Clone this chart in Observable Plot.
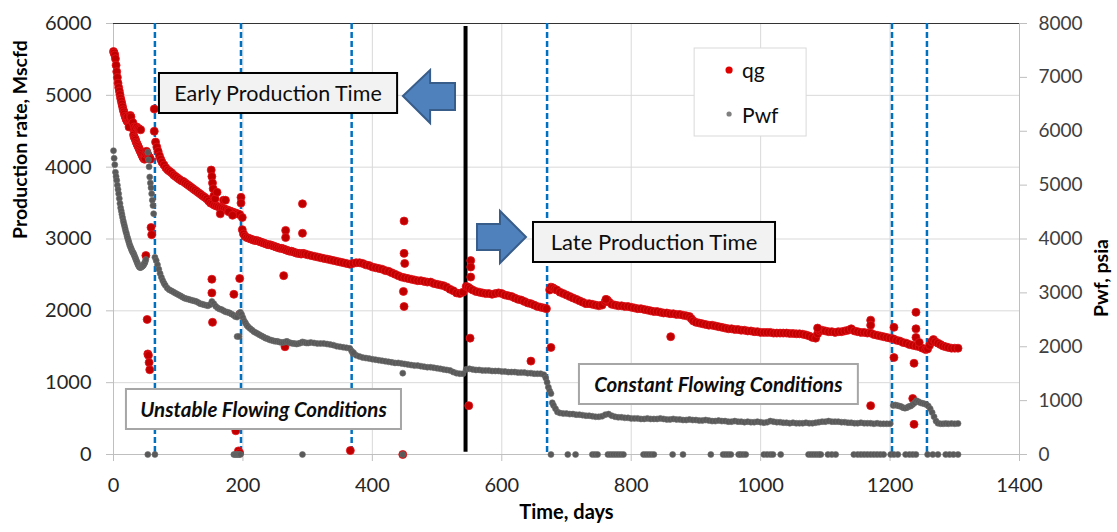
<!DOCTYPE html>
<html><head><meta charset="utf-8">
<script src="https://cdn.jsdelivr.net/npm/d3@7"></script>
<script src="https://cdn.jsdelivr.net/npm/@observablehq/plot@0.6"></script>
<style>
html,body{margin:0;padding:0;background:#fff;}
#chart{width:1117px;height:532px;}
svg{display:block}
</style></head><body><div id="chart"></div>
<script>
// ---------------- DATA ----------------
const xTicks = [0,200,400,600,800,1000,1200,1400];
const leftTicks = [0,1000,2000,3000,4000,5000,6000];
const rightTicks = [0,1000,2000,3000,4000,5000,6000,7000,8000];
const eventDays = [64,197,368,670,1203,1257];
const splitDay = 544;
const seriesNames = ["qg","Pwf"];
const axisTitles = ["Time, days","Production rate, Mscfd","Pwf, psia"];
const boxLabels = ["Early Production Time","Late Production Time","Unstable Flowing Conditions","Constant Flowing Conditions"];

// qg main trend (Mscfd)
const qgDay = [
0,1,2,3,4,5,6,7,8,9,10,11,12,13,14,15,16,17,18,19,20,21,22,23,24,25,26,27,28,29,30,31,32,33,34,35,36,37,38,39,40,41,42,43,44,45,46,47,48,49,50,51,52,53,54,55,56,57,
65,67,69,71,73,75,78,81,84,87,90,93,96,99,102,105,108,111,114,117,120,123,126,129,132,135,138,141,144,147,150,153,156,159,162,165,168,171,174,177,180,183,186,189,192,195,
199,201,203,206,209,212,215,218,221,224,227,230,233,236,239,242,245,248,251,254,257,260,263,266,269,272,275,278,281,284,287,290,293,296,
300,305,310,315,320,325,330,335,340,345,350,355,360,365,370,375,380,385,390,395,400,405,410,415,420,425,430,435,440,445,450,455,460,465,470,475,480,485,490,495,500,505,510,515,520,525,530,535,540,
545,548,551,555,560,565,570,575,580,585,590,595,600,605,610,615,620,625,630,635,640,645,650,655,660,665,669,
674,676,679,682,685,690,695,700,705,710,715,720,725,730,735,740,745,750,755,760,763,766,770,775,780,785,790,795,800,805,
810,815,820,825,830,835,840,845,850,855,860,865,870,875,880,885,890,893,896,900,905,910,915,920,925,930,935,940,945,950,
955,960,965,970,975,980,985,990,995,1000,1005,1010,1015,1020,1025,1030,1035,1040,1045,1050,1055,1060,1065,1070,1075,1080,1085,1088,1091,1095,
1100,1105,1110,1115,1120,1125,1130,1135,1140,1145,1150,1155,1160,1165,1170,1175,1180,1185,1190,1195,1200,1205,1210,1215,1220,1225,1230,1235,1240,1245,
1250,1255,1258,1261,1264,1267,1270,1274,1278,1282,1286,1290,1295,1300,1305];
const qgRate = [
5610,5590,5560,5510,5420,5330,5250,5170,5110,5060,5010,4960,4920,4880,4840,4800,4770,4740,4710,4680,4660,4640,4700,4620,4600,4650,4720,4640,4600,4560,4540,4450,4420,4400,4380,4350,4330,4310,4290,4270,4250,4230,4210,4190,4170,4150,4130,4120,4110,4120,4180,4220,4200,4170,4150,4140,4130,4110,
4350,4280,4220,4160,4110,4070,4030,3990,3960,3940,3920,3890,3870,3850,3830,3810,3800,3780,3760,3740,3720,3700,3680,3660,3640,3620,3600,3580,3560,3530,3500,3490,3470,3460,3450,3440,3430,3420,3410,3400,3390,3380,3370,3360,3350,3340,
3130,3070,3040,3020,3010,3000,2990,2980,2980,2970,2960,2950,2940,2930,2920,2920,2910,2900,2890,2880,2870,2870,2860,2850,2840,2830,2830,2820,2810,2800,2800,2790,2800,2790,
2780,2770,2760,2750,2740,2730,2720,2710,2700,2690,2680,2670,2660,2650,2660,2670,2670,2660,2640,2630,2610,2600,2590,2580,2560,2550,2530,2510,2490,2470,2460,2450,2440,2430,2420,2420,2410,2400,2400,2380,2370,2360,2350,2330,2300,2280,2250,2240,2260,
2340,2330,2310,2290,2270,2260,2250,2240,2240,2230,2240,2250,2240,2220,2210,2200,2180,2160,2150,2130,2110,2100,2080,2060,2050,2040,2030,
2290,2330,2320,2300,2290,2260,2240,2220,2200,2180,2160,2140,2120,2100,2100,2090,2080,2070,2080,2130,2150,2120,2090,2080,2070,2070,2060,2060,2050,2040,
2030,2030,2020,2010,2000,1990,1990,1980,1970,1970,1960,1960,1950,1950,1940,1930,1920,1890,1860,1840,1830,1820,1810,1800,1800,1790,1780,1770,1760,1750,
1750,1740,1740,1730,1730,1720,1720,1710,1710,1700,1700,1700,1700,1690,1690,1690,1690,1690,1685,1685,1680,1680,1675,1665,1650,1630,1620,1680,1720,1730,
1720,1710,1710,1700,1710,1710,1720,1730,1750,1720,1710,1700,1700,1690,1690,1670,1660,1650,1640,1630,1620,1610,1590,1580,1560,1550,1530,1520,1510,1500,
1480,1460,1470,1520,1570,1600,1570,1550,1530,1510,1500,1490,1480,1480,1480];
// qg scattered points (Mscfd)
const qgOutDay = [24,27,30,32,34,36,38,40,42, 50,52,53,54,55,56,58,59,63,63,
151,152,153,154,155,157,160,165,170,173,178,184,
152,152,153,186,189,193,195,195,195,197,197,199,
263,265,266,266,292,292, 366, 447,449,449,450,448,449,
552,552,552,549,551,645,676,761,861,
1088,1170,1170,1170,1206,1206,1237,1240,1240,1240,1235,1237,1245];
const qgOutRate = [4560,4700,4620,4560,4540,4560,4540,4530,4520, 2770,1880,1400,1380,1280,1180,3160,3060,4810,4500,
3960,3870,3780,3700,3600,3560,3650,3350,3540,3540,3380,3330,
2440,2250,1840,2230,330,50,2450,1950,20,3580,3500,3300,
2490,1500,3120,3020,3490,3080, 55, 0,3250,2800,2660,2270,2060,
2700,2470,2610,680,1620,1300,1490,2160,1640,
1760,1870,1800,680,1770,1350,1270,1980,1750,1630,780,420,1560];

// Pwf main trend (psia)
const pwfDay = [
0,1,2,3,4,5,6,7,8,9,10,11,12,13,14,15,16,17,18,19,20,21,22,23,24,25,26,27,28,29,30,31,32,33,34,35,36,37,38,39,40,41,42,43,44,45,46,47,48,49,50,
53,54,55,56,57,58,59,60,61,62,
64,66,68,70,72,74,76,78,80,83,86,89,92,95,98,101,104,107,110,113,116,119,122,125,128,131,134,137,140,143,146,149,152,155,158,161,164,167,170,173,176,179,182,185,188,191,194,196,
198,200,202,204,206,208,211,214,217,220,223,226,229,232,235,238,241,244,247,250,253,256,259,262,265,268,271,274,277,280,283,286,289,292,295,298,301,
305,310,315,320,325,330,335,340,345,350,355,360,365,370,375,380,385,390,395,400,405,410,415,420,425,430,435,440,445,450,455,460,465,470,475,480,485,490,495,500,
505,510,515,520,525,530,535,540,545,550,555,560,565,570,575,580,585,590,595,600,605,610,615,620,625,630,635,640,645,650,655,660,665,
668,670,672,674,676,678,680,683,686,690,
695,700,705,710,715,720,725,730,735,740,745,750,755,760,765,770,775,780,785,790,795,800,805,810,815,820,825,830,835,840,
845,850,855,860,865,870,875,880,885,890,895,900,905,910,915,920,925,930,935,940,945,950,955,960,965,970,975,980,985,990,
995,1000,1005,1010,1015,1020,1025,1030,1035,1040,1045,1050,1055,1060,1065,1070,1075,1080,1085,1090,1095,1100,1105,1110,1115,1120,1125,1130,1135,1140,
1145,1150,1155,1160,1165,1170,1175,1180,1185,1190,1195,1200,
1205,1208,1211,1214,1217,1220,1223,1226,1229,1232,1235,1238,1241,1244,1247,1250,1253,1256,1259,1262,1265,1268,1271,1274,1278,1282,1286,1290,1295,1300,1305];
const pwfVal = [
5640,5500,5380,5240,5160,5090,5000,4920,4840,4750,4660,4580,4520,4460,4400,4340,4290,4240,4190,4140,4100,4050,4010,3970,3930,3890,3860,3830,3800,3770,3750,3730,3700,3670,3640,3610,3580,3550,3520,3500,3480,3470,3470,3480,3490,3500,3510,3530,3550,3580,3620,
5610,5470,5340,5150,5040,4950,4840,4720,4620,4470,
3660,3600,3520,3440,3360,3290,3230,3180,3140,3090,3060,3040,3020,3000,2980,2960,2940,2920,2900,2890,2880,2870,2860,2850,2840,2820,2800,2790,2780,2770,2760,2780,2840,2800,2750,2720,2700,2690,2670,2650,2640,2630,2610,2590,2560,2550,2620,2640,
2600,2540,2480,2440,2400,2370,2340,2310,2280,2260,2240,2220,2200,2180,2160,2150,2130,2120,2110,2100,2100,2090,2080,2080,2090,2100,2080,2070,2060,2060,2050,2060,2070,2090,2080,2070,2070,
2080,2070,2060,2060,2060,2050,2040,2030,2010,2000,1990,1980,1970,1870,1840,1820,1800,1790,1780,1770,1760,1750,1740,1730,1720,1710,1700,1700,1690,1680,1670,1660,1650,1650,1640,1630,1620,1620,1610,1600,
1590,1580,1570,1560,1530,1510,1500,1500,1580,1590,1580,1570,1570,1560,1560,1560,1550,1550,1550,1540,1540,1530,1530,1530,1520,1520,1520,1510,1510,1500,1500,1500,1480,
1420,1340,1250,1180,1130,960,910,850,790,770,
760,760,750,750,740,740,730,720,720,710,700,700,710,740,750,720,700,690,690,680,680,670,670,670,660,660,670,660,660,660,
670,660,650,650,660,650,650,640,640,650,640,640,630,630,640,630,620,620,630,620,620,610,610,620,610,610,600,610,600,600,
610,600,590,600,620,610,600,600,590,590,580,590,580,580,580,590,580,580,590,600,610,610,620,610,610,610,600,600,590,590,
580,580,590,580,580,580,570,580,570,570,570,570,
910,920,910,900,890,870,860,870,890,900,930,960,1000,980,960,950,940,930,900,850,780,700,620,580,570,570,575,570,575,570,575];
// Pwf scattered points (psia), including shut-in zeros
const pwfOutDay = [191,194,447,368,371,
53,64,186,188,190,192,194,196,292,447,676,702,714,740,744,748,764,768,772,776,780,784,788,819,823,827,831,835,864,880,923,942,946,950,954,966,969,973,977,
1005,1010,1015,1019,1031,1074,1078,1082,1086,1090,1093,1104,1110,1116,1144,1150,1155,1160,1165,1170,1175,1180,1185,1190,1201,1206,1212,1224,1230,1235,1240,1258,1266,1274,1286,1292,1298,1305];
const pwfOutVal = [2190,2190,1510,1920,1890,
0,0,0,0,0,0,0,0,0,0,0,0,0,0,0,0,0,0,0,0,0,0,0,0,0,0,0,0,0,0,0,0,0,0,0,0,0,0,0,
0,0,0,0,0,0,0,0,0,0,0,0,0,0,0,0,0,0,0,0,0,0,0,0,0,0,0,0,0,0,0,0,0,0,0,0,0,0];

// ---------------- LAYOUT (annotation positions in data units) ----------------
const layout = {
  early:    {x1:71,  x2:439,  y1:5304, y2:4747},
  late:     {x1:649, x2:1023, y1:3230, y2:2673},
  unstable: {x1:20,  x2:445,  y1:905,  y2:348},
  constant: {x1:720, x2:1151, y1:1253, y2:696},
  legend:   {x1:898, x2:1071, y1:5652, y2:4427, dotX:952, textX:972, qgY:5346, pwfY:4733},
  leftArrow:  [[448,4984],[490,5346],[490,5165],[528.5,5165],[528.5,4789],[490,4789],[490,4608]],
  rightArrow: [[562.5,3202],[598,3202],[598,3383],[638.2,3021],[598,2659],[598,2840],[562.5,2840]],
  split: {y1:32, y2:5958}
};

// ---------------- BUILD ----------------
const K = 6000/8000; // right-axis psia -> left-axis units
const qgData = qgDay.map((d,i)=>({day:d, v:qgRate[i]}))
  .concat(qgOutDay.map((d,i)=>({day:d, v:qgOutRate[i]})));
const pwfData = pwfDay.map((d,i)=>({day:d, v:pwfVal[i]*K}))
  .concat(pwfOutDay.map((d,i)=>({day:d, v:pwfOutVal[i]*K})));
const plain = d => String(Math.round(d));

const chart = Plot.plot({
  width:1117, height:532,
  marginTop:23, marginRight:98, marginBottom:78, marginLeft:113,
  style:{fontFamily:"Lato, sans-serif", background:"#fff", overflow:"visible"},
  x:{domain:[0,1400]},
  y:{domain:[0,6000]},
  marks:[
    Plot.gridX(xTicks,{stroke:"#D9D9D9", strokeOpacity:1}),
    Plot.gridY(leftTicks,{stroke:"#D9D9D9", strokeOpacity:1}),
    Plot.ruleX([0],{stroke:"#BFBFBF"}),
    Plot.ruleX([1400],{stroke:"#BFBFBF"}),
    Plot.ruleY([0],{stroke:"#BFBFBF"}),
    Plot.ruleY([6000],{stroke:"#333"}),
    Plot.axisX(xTicks,{tickSize:7, tickPadding:16, stroke:"#BFBFBF", fill:"#262626", fontSize:20, label:null, tickFormat:plain}),
    Plot.axisY(leftTicks,{anchor:"left", tickSize:7, tickPadding:15, stroke:"#BFBFBF", fill:"#262626", fontSize:20, label:null, tickFormat:plain}),
    Plot.axisY(rightTicks.map(v=>v*K),{anchor:"right", tickSize:7, tickPadding:12, stroke:"#BFBFBF", fill:"#404040", fontSize:19, label:null, tickFormat:d=>plain(d/K)}),
    Plot.ruleX(eventDays,{stroke:"#0070C0", strokeWidth:2.5, strokeDasharray:"6,3"}),
    Plot.ruleX([splitDay],{y1:layout.split.y1, y2:layout.split.y2, stroke:"#000", strokeWidth:4}),
    Plot.dot(qgData,{x:"day", y:"v", r:4, fill:"#C00000", stroke:"#E3141C", strokeWidth:0.8}),
    Plot.dot(pwfData,{x:"day", y:"v", r:3, fill:"#595959", stroke:"#6E6E6E", strokeWidth:0.6}),
    Plot.text([axisTitles[0]],{text:d=>d, frameAnchor:"bottom", dy:64, fontSize:20, fontWeight:"bold", fill:"#000"}),
    Plot.text([axisTitles[1]],{text:d=>d, frameAnchor:"left", dx:-93, rotate:-90, fontSize:19.5, fontWeight:"bold", fill:"#000"}),
    Plot.text([axisTitles[2]],{text:d=>d, frameAnchor:"right", dx:82, rotate:-90, fontSize:19.5, fontWeight:"bold", fill:"#000"})
  ]
});
document.getElementById("chart").appendChild(chart);

// ---------------- ANNOTATIONS (positioned through the plot's scales) ----------------
const sx = chart.scale("x"), sy = chart.scale("y");
const X = v => sx.apply(v), Y = v => sy.apply(v);
const g = d3.select(chart).append("g").attr("font-family","Lato, sans-serif").attr("text-anchor","start");

function box(b, fill, stroke, sw){
  g.append("rect").attr("x",X(b.x1)).attr("y",Y(b.y1))
   .attr("width",X(b.x2)-X(b.x1)).attr("height",Y(b.y2)-Y(b.y1))
   .attr("fill",fill).attr("stroke",stroke).attr("stroke-width",sw);
}
function label(b, txt, size, weight, style){
  g.append("text").attr("x",(X(b.x1)+X(b.x2))/2).attr("y",(Y(b.y1)+Y(b.y2))/2)
   .attr("text-anchor","middle").attr("dominant-baseline","central")
   .attr("font-size",size).attr("font-weight",weight).attr("font-style",style)
   .attr("fill","#0d0d0d").text(txt);
}
function arrow(pts){
  g.append("polygon").attr("points",pts.map(p=>X(p[0])+","+Y(p[1])).join(" "))
   .attr("fill","#4F81BD").attr("stroke","#385D8A").attr("stroke-width",2);
}
box(layout.early,"#F2F2F2","#000",2); label(layout.early,boxLabels[0],21.5,"normal","normal");
box(layout.late,"#F2F2F2","#000",2); label(layout.late,boxLabels[1],22,"normal","normal");
box(layout.unstable,"#fff","#A6A6A6",2); label(layout.unstable,boxLabels[2],20.5,"bold","italic");
box(layout.constant,"#fff","#A6A6A6",2); label(layout.constant,boxLabels[3],20.5,"bold","italic");
arrow(layout.leftArrow); arrow(layout.rightArrow);

const L = layout.legend;
box(L,"#fff","#D9D9D9",1);
g.append("circle").attr("cx",X(L.dotX)).attr("cy",Y(L.qgY)).attr("r",3.6).attr("fill","#E00000");
g.append("circle").attr("cx",X(L.dotX)).attr("cy",Y(L.pwfY)).attr("r",2.6).attr("fill","#7F7F7F");
g.append("text").attr("x",X(L.textX)).attr("y",Y(L.qgY)).attr("dominant-baseline","central")
  .attr("text-anchor","start").attr("font-size",21).attr("fill","#0d0d0d").text(seriesNames[0]);
g.append("text").attr("x",X(L.textX)).attr("y",Y(L.pwfY)).attr("dominant-baseline","central")
  .attr("text-anchor","start").attr("font-size",21).attr("fill","#0d0d0d").text(seriesNames[1]);
</script>
</body></html>
